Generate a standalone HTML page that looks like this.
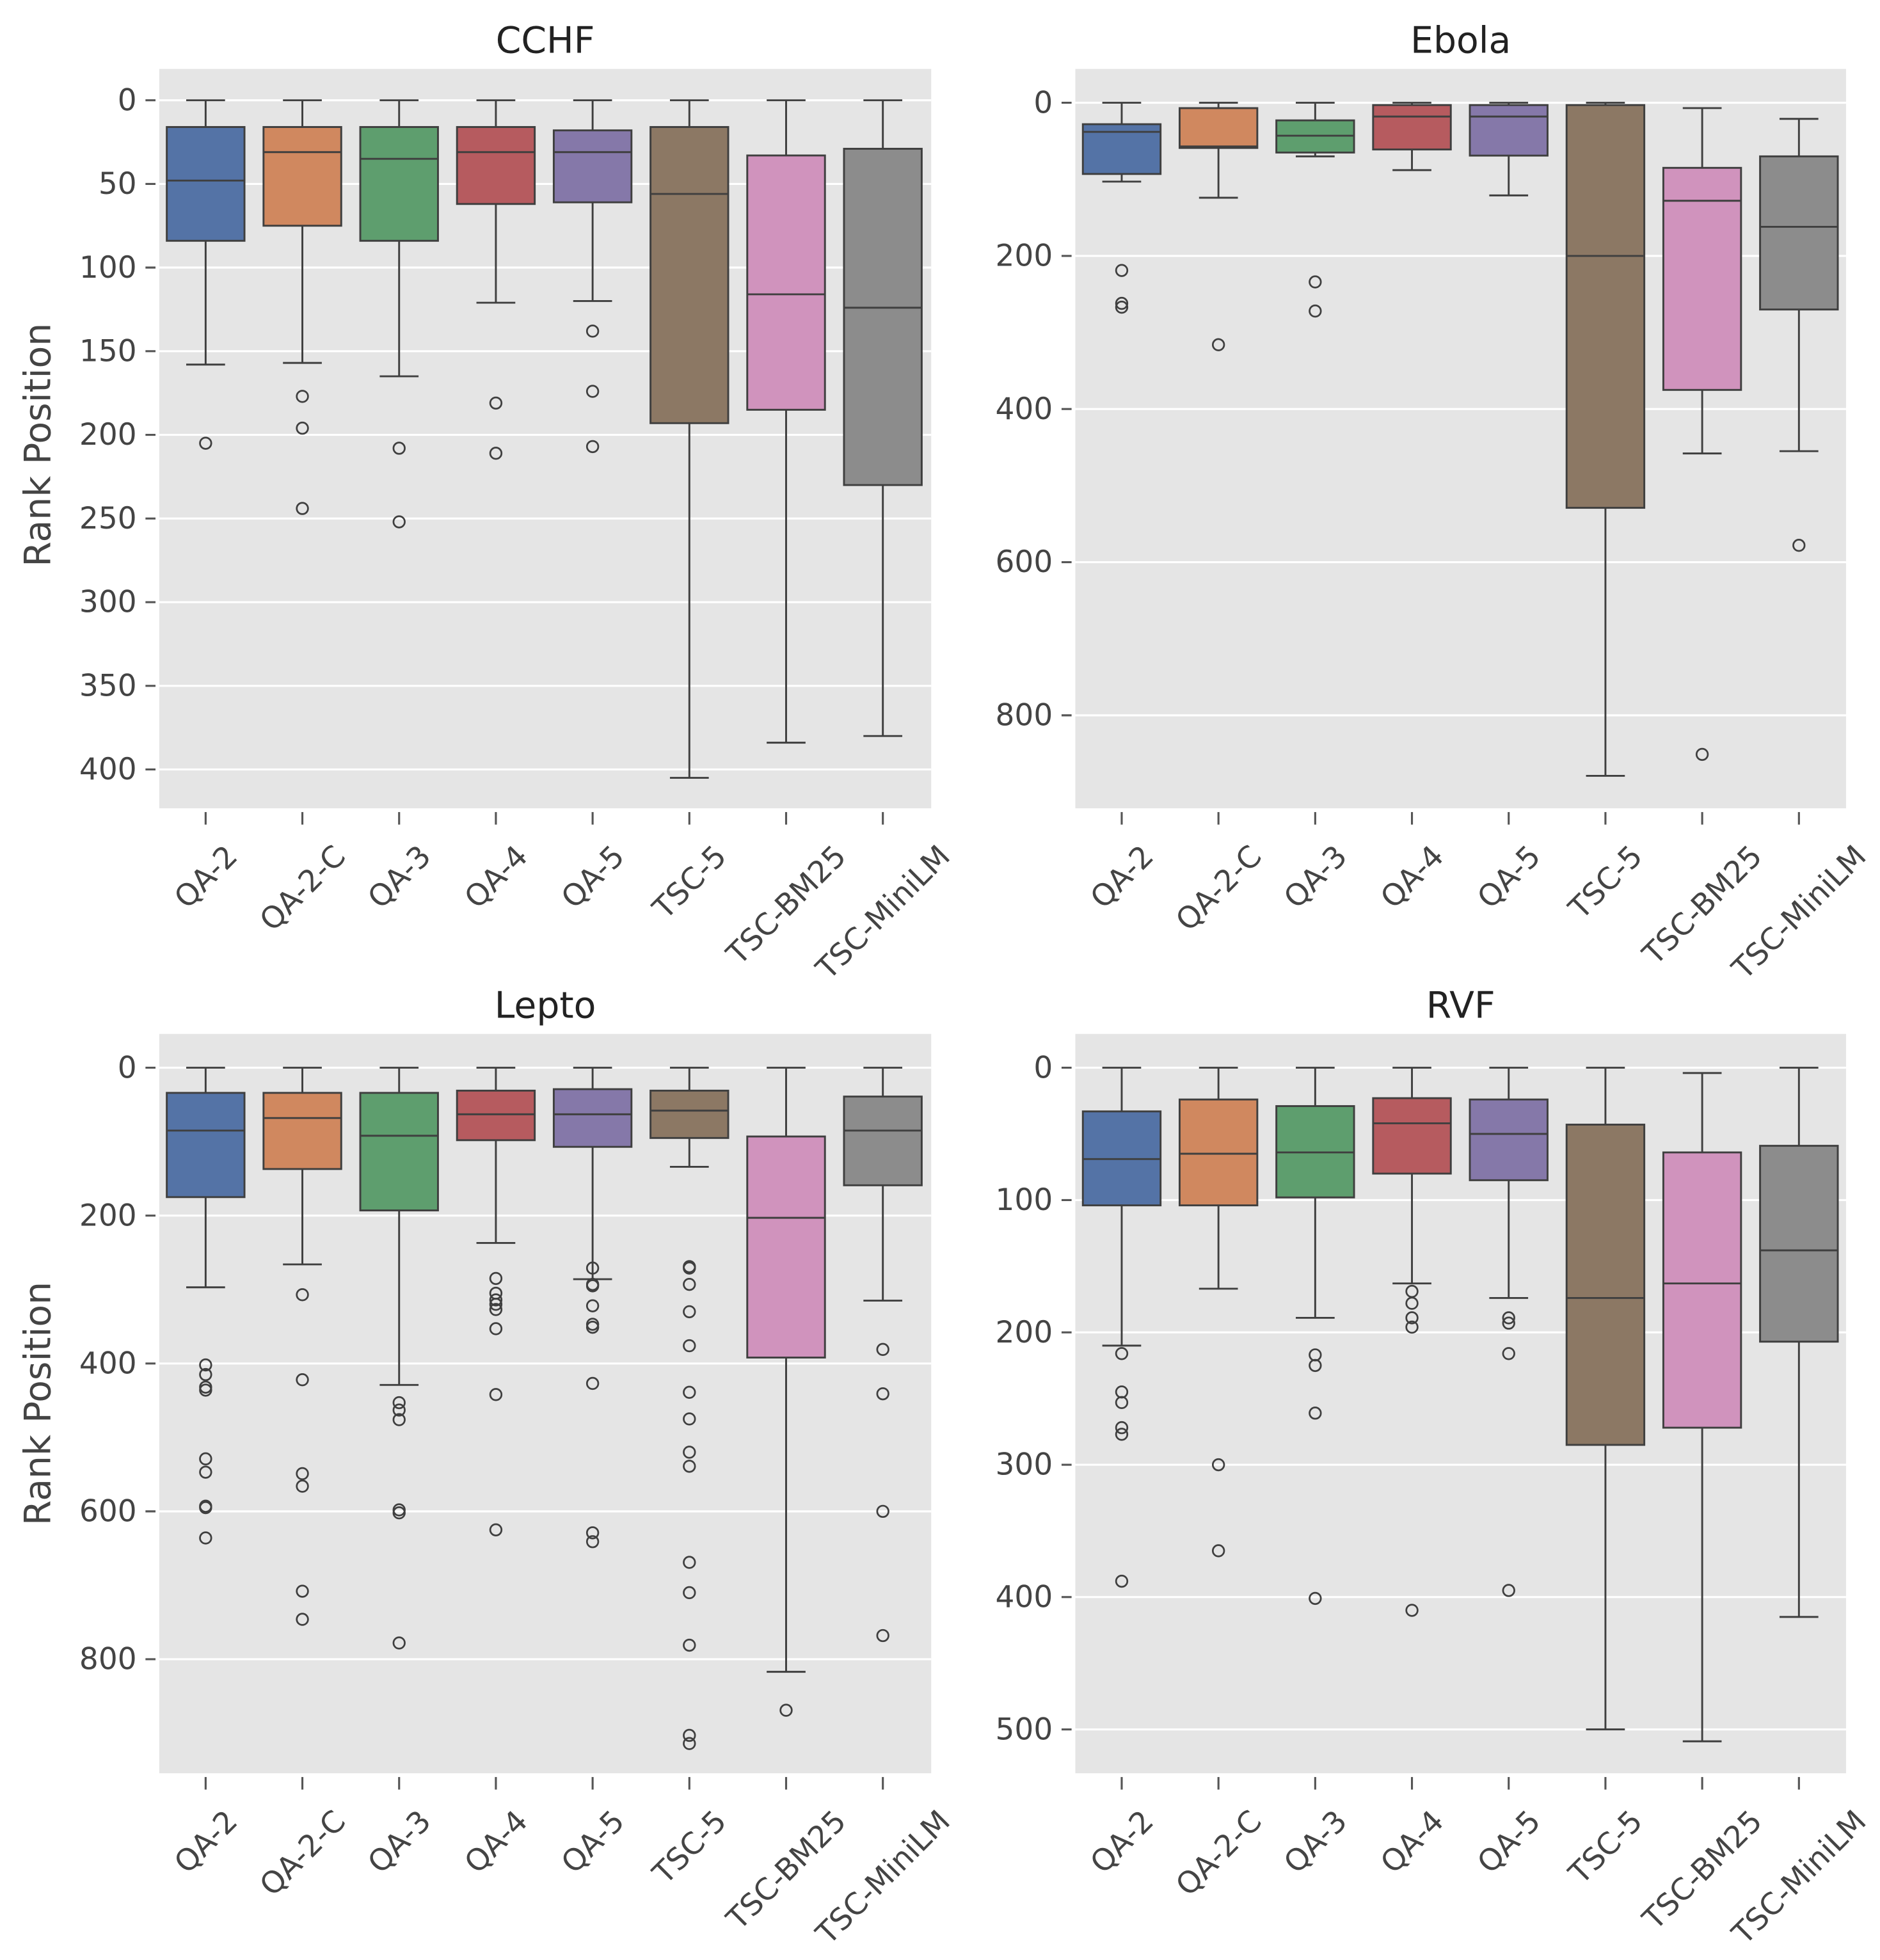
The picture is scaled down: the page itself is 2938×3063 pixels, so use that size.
<!DOCTYPE html>
<html><head><meta charset="utf-8">
<style>
html,body{margin:0;padding:0;background:#fff;}
svg{display:block;}
text{font-family:"DejaVu Sans","Liberation Sans",sans-serif;fill:#444;}
</style></head>
<body>
<svg id="chart" xmlns="http://www.w3.org/2000/svg" width="2938" height="3063" viewBox="0 0 1500 1564"></svg>
<script>
const categories = ["QA-2","QA-2-C","QA-3","QA-4","QA-5","TSC-5","TSC-BM25","TSC-MiniLM"];
const colors = ["#5473a6","#d0885f","#5e9e6e","#b65b5f","#8578a9","#8c7864","#d093bd","#8c8c8c"];
const titles = ["CCHF","Ebola","Lepto","RVF"];
// [lo, q1, median, q3, hi] per category
const cchfStats = [[0,16,48,84,158],[0,16,31,75,157],[0,16,35,84,165],[0,16,31,62,121],[0,18,31,61,120],[0,16,56,193,405],[0,33,116,185,384],[0,29,124,230,380]];
const cchfOutliers = [[205],[177,196,244],[208,252],[181,211],[138,174,207],[],[],[]];
const ebolaStats = [[0,28,38,93,103],[0,7,57,59,124],[0,23,43,65,70],[0,3,18,61,88],[0,3,18,69,121],[0,3,200,529,879],[7,85,128,375,458],[21,70,162,270,455]];
const ebolaOutliers = [[219,262,267],[316],[234,272],[],[],[],[851],[578]];
const leptoStats = [[0,34,85,175,297],[0,34,68,137,266],[0,34,92,193,429],[0,31,63,98,237],[0,29,63,107,286],[0,31,58,95,134],[0,93,203,392,817],[0,39,85,159,315]];
const leptoOutliers = [[402,415,432,436,529,547,593,595,636],[307,422,549,566,708,746],[453,463,476,598,602,778],[285,305,314,320,327,353,442,625],[271,293,295,322,347,351,427,629,641],[269,271,293,330,376,439,475,520,539,669,710,781,903,914],[869],[381,441,600,768]];
const rvfStats = [[0,33,69,104,210],[0,24,65,104,167],[0,29,64,98,189],[0,23,42,80,163],[0,24,50,85,174],[0,43,174,285,500],[4,64,163,272,509],[0,59,138,207,415]];
const rvfOutliers = [[216,245,253,272,277,388],[300,365],[217,225,261,401],[169,178,189,196,410],[189,193,216,395],[],[],[]];
const cchfTicks = [0,50,100,150,200,250,300,350,400];
const ebolaTicks = [0,200,400,600,800];
const leptoTicks = [0,200,400,600,800];
const rvfTicks = [0,100,200,300,400,500];

const panels = [
 {stats:cchfStats,out:cchfOutliers,ticks:cchfTicks,x0:127,x1:743,y0:55,y1:645,zero:80,scale:1.335,title:"CCHF",ylab:true},
 {stats:ebolaStats,out:ebolaOutliers,ticks:ebolaTicks,x0:858,x1:1473,y0:55,y1:645,zero:82,scale:0.611,title:"Ebola",ylab:false},
 {stats:leptoStats,out:leptoOutliers,ticks:leptoTicks,x0:127,x1:743,y0:825,y1:1415,zero:852,scale:0.59,title:"Lepto",ylab:true},
 {stats:rvfStats,out:rvfOutliers,ticks:rvfTicks,x0:858,x1:1473,y0:825,y1:1415,zero:852,scale:1.056,title:"RVF",ylab:false}
];
const NS="http://www.w3.org/2000/svg";
const svg=document.getElementById('chart');
function mk(tag,attrs,parent){const e=document.createElementNS(NS,tag);for(const k in attrs)e.setAttribute(k,attrs[k]);(parent||svg).appendChild(e);return e;}
const LC="#3f3f3f";
const FS=24;
panels.forEach((p,pi)=>{
  const g=mk('g',{});
  
  
  const yS=v=>p.zero+p.scale*v;
  const xS=i=>p.x0+37+i*77.2;
  const bg=mk('rect',{x:p.x0,y:p.y0,width:p.x1-p.x0,height:p.y1-p.y0,fill:'#e5e5e5'},g);
  
  
  p.ticks.forEach(t=>{
    mk('line',{x1:p.x0,x2:p.x1,y1:yS(t),y2:yS(t),stroke:'#fff','stroke-width':1.6},g);
    mk('line',{x1:p.x0-11,x2:p.x0-3,y1:yS(t),y2:yS(t),stroke:'#555','stroke-width':1.6},g);
    const tl=mk('text',{x:p.x0-18,y:yS(t)+8,'text-anchor':'end','font-size':FS},g);
    tl.textContent=t;
    
    
  });
  const tt=mk('text',{x:(p.x0+p.x1)/2,y:p.y0-13,'text-anchor':'middle','font-size':29,style:'fill:#222'},g);
  tt.textContent=p.title;
  
  
  if(p.ylab){
    const cy=(p.y0+p.y1)/2+(pi==0?5:0);
    const yl=mk('text',{x:40,y:cy,'text-anchor':'middle','font-size':29,transform:`rotate(-90 40 ${cy})`},g);
    yl.textContent='Rank Position';
    
    
  }
  categories.forEach((c,i)=>{
    const x=xS(i), s=p.stats[i], w=62;
    mk('line',{x1:x,x2:x,y1:p.y1+3,y2:p.y1+13,stroke:'#555','stroke-width':1.6},g);
    const xl=mk('text',{x:0,y:0,'text-anchor':'middle','font-size':FS},g);
    xl.textContent=c;
    
    
    const L=xl.getComputedTextLength();
    const h=(L+FS*0.8)*0.7071;
    const cy=p.y1+27+h/2;
    xl.setAttribute('x',x);
    xl.setAttribute('y',cy+FS*0.35);
    xl.setAttribute('transform',`rotate(-45 ${x} ${cy})`);
    const bx=mk('g',{},g);
    
    
    mk('line',{x1:x,x2:x,y1:yS(s[0]),y2:yS(s[1]),stroke:LC,'stroke-width':1.5},bx);
    mk('line',{x1:x,x2:x,y1:yS(s[3]),y2:yS(s[4]),stroke:LC,'stroke-width':1.5},bx);
    mk('line',{x1:x-w/4,x2:x+w/4,y1:yS(s[0]),y2:yS(s[0]),stroke:LC,'stroke-width':1.5},bx);
    mk('line',{x1:x-w/4,x2:x+w/4,y1:yS(s[4]),y2:yS(s[4]),stroke:LC,'stroke-width':1.5},bx);
    mk('rect',{x:x-w/2,y:yS(s[1]),width:w,height:yS(s[3])-yS(s[1]),fill:colors[i],stroke:LC,'stroke-width':1.5},bx);
    mk('line',{x1:x-w/2,x2:x+w/2,y1:yS(s[2]),y2:yS(s[2]),stroke:LC,'stroke-width':1.5},bx);
    p.out[i].forEach(o=>{
      const ci=mk('circle',{cx:x,cy:yS(o),r:4.5,fill:'none',stroke:LC,'stroke-width':1.4},bx);
      
      
    });
  });
});
</script>
</body></html>
